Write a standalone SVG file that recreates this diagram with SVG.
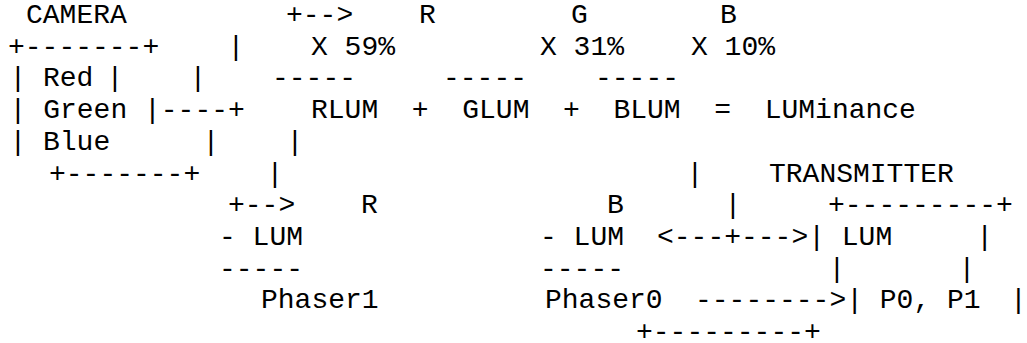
<svg xmlns="http://www.w3.org/2000/svg" width="1027" height="343" viewBox="0 0 1027 343">
<style>
text{font-family:"Liberation Mono","Courier New",monospace;font-size:28px;fill:#000;white-space:pre}
</style>
<rect width="1027" height="343" fill="#fff"/>
<g id="camera">
<text x="26" y="23">CAMERA</text>
<text x="8" y="54.7">+-------+</text>
<text x="9.6" y="86.4">|</text><text x="43" y="86.4">Red</text><text x="106.6" y="86.4">|</text>
<text x="9.6" y="118.1" xml:space="preserve">| Green |</text>
<text x="9.6" y="149.8">|</text><text x="43" y="149.8">Blue</text><text x="202.6" y="149.8">|</text>
<text x="49" y="181.5">+-------+</text>
</g>
<g id="luminance">
<text x="419" y="23">R</text><text x="571" y="23">G</text><text x="720" y="23">B</text>
<text x="311" y="54.7" xml:space="preserve">X 59%</text><text x="540" y="54.7" xml:space="preserve">X 31%</text><text x="691" y="54.7" xml:space="preserve">X 10%</text>
<text x="272" y="86.4">-----</text><text x="443" y="86.4">-----</text><text x="595" y="86.4">-----</text>
<text x="311" y="118.1" xml:space="preserve">RLUM  +  GLUM  +  BLUM  =  LUMinance</text>
</g>
<g id="phaser1">
<text x="361" y="213.2">R</text>
<text x="219" y="244.9" xml:space="preserve">- LUM</text>
<text x="219" y="276.6">-----</text>
<text x="261" y="308.3">Phaser1</text>
</g>
<g id="phaser0">
<text x="607" y="213.2">B</text>
<text x="540" y="244.9" xml:space="preserve">- LUM</text>
<text x="540" y="276.6">-----</text>
<text x="545" y="308.3">Phaser0</text>
</g>
<g id="transmitter">
<text x="769" y="181.5">TRANSMITTER</text>
<text x="828" y="213.2">+---------+</text>
<text x="808.2" y="244.9" xml:space="preserve">| LUM     |</text>
<text x="828.6" y="276.6">|</text><text x="958.6" y="276.6">|</text>
<text x="846.2" y="308.3" xml:space="preserve">| P0, P1</text><text x="1010" y="308.3">|</text>
<text x="636" y="340">+---------+</text>
</g>
<g id="connectors">
<text x="286" y="23">+--&gt;</text>
<text x="227.6" y="54.7">|</text>
<text x="189.6" y="86.4">|</text>
<text x="160.8" y="118.1">----+</text>
<text x="286.6" y="149.8">|</text>
<text x="266.6" y="181.5">|</text><text x="686.6" y="181.5">|</text>
<text x="228" y="213.2">+--&gt;</text>
<text x="724.6" y="213.2">|</text>
<text x="657" y="244.9">&lt;---+---&gt;</text>
<text x="695" y="308.3">--------&gt;</text>
</g>
</svg>
